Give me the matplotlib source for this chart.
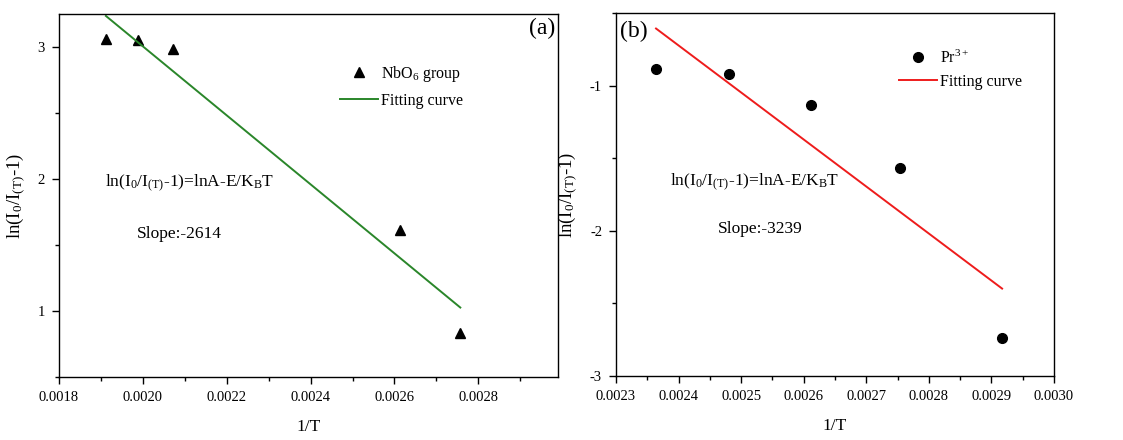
import matplotlib
matplotlib.use("Agg")
import numpy as np
import matplotlib.pyplot as plt
from matplotlib.ticker import MultipleLocator, FormatStrFormatter
from matplotlib.lines import Line2D

plt.rcParams['font.family'] = ['Liberation Serif', 'DejaVu Serif']
plt.rcParams['mathtext.fontset'] = 'custom'
plt.rcParams['mathtext.rm'] = 'Liberation Serif'
plt.rcParams['mathtext.it'] = 'Liberation Serif'
plt.rcParams['axes.linewidth'] = 1.0

# panel (a): NbO6 group
inv_t_a = [0.001912, 0.001988, 0.002071, 0.002614, 0.002757]
ln_a = [3.06, 3.05, 2.985, 1.61, 0.83]
slope_a = -2614
intercept_a = 8.233

# panel (b): Pr3+
inv_t_b = [0.002364, 0.002481, 0.002611, 0.002754, 0.002917]
ln_b = [-0.883, -0.917, -1.131, -1.566, -2.74]
slope_b = -3239
intercept_b = 7.05

ylabel = r'ln(I$_0$/I$_{(T)}$-1)'
equation = r'ln(I$_0$/I$_{(T)}$-1)=lnA-E/K$_\mathrm{B}$T'

fig = plt.figure(figsize=(11.23, 4.4), dpi=100)
ax1 = fig.add_axes([0.0525, 0.1432, 0.4444, 0.8250])
ax2 = fig.add_axes([0.5485, 0.1455, 0.3901, 0.8250])


def style_axis(ax):
    ax.tick_params(which='both', direction='out', top=False, right=False, labelsize=10.5)
    ax.tick_params(which='major', length=5, width=1, pad=5)
    ax.tick_params(which='minor', length=3, width=1)
    ax.set_xlabel('1/T', fontsize=12.5, labelpad=11)
    ax.set_ylabel(ylabel, fontsize=13.5, labelpad=8)


# (a)
xa = np.array([inv_t_a[0], inv_t_a[-1]])
ax1.plot(inv_t_a, ln_a, linestyle='none', marker='^', color='black', markersize=7)
ax1.plot(xa, intercept_a + slope_a * xa, color='#2a862a', linewidth=1.4)
ax1.set_xlim(0.0018, 0.00299)
ax1.set_ylim(0.5, 3.25)
ax1.xaxis.set_major_locator(MultipleLocator(0.0002))
ax1.xaxis.set_minor_locator(MultipleLocator(0.0001))
ax1.xaxis.set_major_formatter(FormatStrFormatter('%.4f'))
ax1.yaxis.set_major_locator(MultipleLocator(1))
ax1.yaxis.set_minor_locator(MultipleLocator(0.5))
ax1.yaxis.set_major_formatter(FormatStrFormatter('%d'))
style_axis(ax1)
ax1.text(0.994, 0.959, '(a)', transform=ax1.transAxes, ha='right', va='center', fontsize=17)
ax1.text(0.092, 0.534, equation, transform=ax1.transAxes, ha='left', va='center', fontsize=12.5)
ax1.text(0.156, 0.394, 'Slope:-2614', transform=ax1.transAxes, ha='left', va='center', fontsize=12.5)
h_a = [Line2D([], [], linestyle='none', marker='^', color='black', markersize=7),
       Line2D([], [], color='#2a862a', linewidth=1.4)]
ax1.legend(h_a, [r'NbO$_6$ group', 'Fitting curve'], loc='upper left',
           bbox_to_anchor=(0.563, 0.862), frameon=False, fontsize=11.5,
           handlelength=2.4, handletextpad=0.2, labelspacing=0.55,
           borderaxespad=0, borderpad=0)

# (b)
xb = np.array([inv_t_b[0], inv_t_b[-1]])
ax2.plot(inv_t_b, ln_b, linestyle='none', marker='o', color='black', markersize=7)
ax2.plot(xb, intercept_b + slope_b * xb, color='#ee1c1c', linewidth=1.4)
ax2.set_xlim(0.0023, 0.0030)
ax2.set_ylim(-3, -0.5)
ax2.xaxis.set_major_locator(MultipleLocator(0.0001))
ax2.xaxis.set_minor_locator(MultipleLocator(0.00005))
ax2.xaxis.set_major_formatter(FormatStrFormatter('%.4f'))
ax2.yaxis.set_major_locator(MultipleLocator(1))
ax2.yaxis.set_minor_locator(MultipleLocator(0.5))
ax2.yaxis.set_major_formatter(FormatStrFormatter('%d'))
style_axis(ax2)
ax2.text(0.009, 0.948, '(b)', transform=ax2.transAxes, ha='left', va='center', fontsize=17)
ax2.text(0.123, 0.534, equation, transform=ax2.transAxes, ha='left', va='center', fontsize=12.5)
ax2.text(0.233, 0.405, 'Slope:-3239', transform=ax2.transAxes, ha='left', va='center', fontsize=12.5)
h_b = [Line2D([], [], linestyle='none', marker='o', color='black', markersize=7),
       Line2D([], [], color='#ee1c1c', linewidth=1.4)]
ax2.legend(h_b, [r'Pr$^{3+}$', 'Fitting curve'], loc='upper left',
           bbox_to_anchor=(0.646, 0.90), frameon=False, fontsize=11.5,
           handlelength=2.4, handletextpad=0.2, labelspacing=0.45,
           borderaxespad=0, borderpad=0)

fig.savefig('out.png', dpi=100)
